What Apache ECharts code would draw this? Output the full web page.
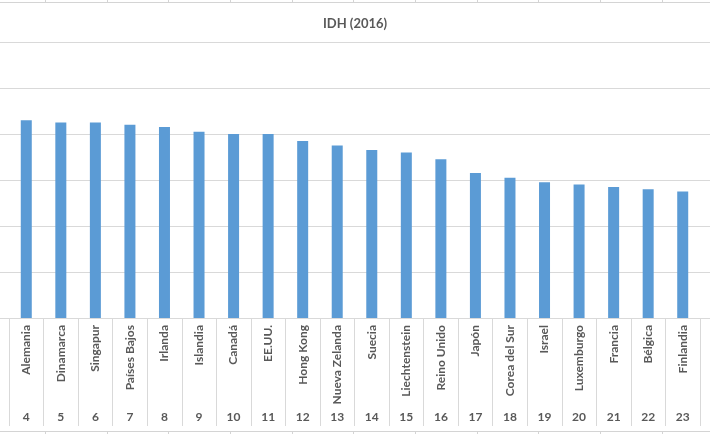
<!DOCTYPE html>
<html>
<head>
<meta charset="utf-8">
<script src="https://cdn.jsdelivr.net/npm/echarts@6/dist/echarts.min.js"></script>
<style>
html,body{margin:0;padding:0;background:#fff;}
#c{width:710px;height:434px;}
</style>
</head>
<body>
<div id="c"></div>
<script>
const titleText = 'IDH (2016)';
const countries = ['Alemania','Dinamarca','Singapur','Países Bajos','Irlanda','Islandia','Canadá','EE.UU.','Hong Kong','Nueva Zelanda','Suecia','Liechtenstein','Reino Unido','Japón','Corea del Sur','Israel','Luxemburgo','Francia','Bélgica','Finlandia'];
const ranks = ['4','5','6','7','8','9','10','11','12','13','14','15','16','17','18','19','20','21','22','23'];
const idh = [0.926,0.925,0.925,0.924,0.923,0.921,0.920,0.920,0.917,0.915,0.913,0.912,0.909,0.903,0.901,0.899,0.898,0.897,0.896,0.895];
const yMin = 0.84, yMax = 0.96, yStep = 0.02;
const sheetCols = [45,107,168,230,292,353,415,477,538,600,662];

const chart = echarts.init(document.getElementById('c'), null, {renderer:'canvas'});
const FONT = 'Lato';
const TXT = '#595959';
const GRID = '#d9d9d9';

const graphics = [
  {type:'line', shape:{x1:0,y1:2.5,x2:710,y2:2.5}, style:{stroke:'#d4d4d4',lineWidth:1}, silent:true},
  {type:'line', shape:{x1:0,y1:431.5,x2:710,y2:431.5}, style:{stroke:'#d4d4d4',lineWidth:1}, silent:true}
];
sheetCols.forEach(x=>{
  graphics.push({type:'line', shape:{x1:x+0.5,y1:0,x2:x+0.5,y2:2}, style:{stroke:'#d4d4d4',lineWidth:1}, silent:true});
  graphics.push({type:'line', shape:{x1:x+0.5,y1:432,x2:x+0.5,y2:434}, style:{stroke:'#d4d4d4',lineWidth:1}, silent:true});
});

chart.setOption({
  animation:false,
  backgroundColor:'#fff',
  title:{
    text:titleText, left:'center', top:12,
    textStyle:{fontFamily:FONT, fontSize:13, fontWeight:'bold', color:TXT}
  },
  graphic:graphics,
  grid:[
    {left:0, right:0, top:42, bottom:116},
    {left:9, right:10, top:42, bottom:116}
  ],
  xAxis:[
    {gridIndex:0, type:'value', show:false, min:0, max:1},
    {gridIndex:1, type:'category', data:countries, position:'bottom',
      axisLine:{show:true, lineStyle:{color:GRID, width:1}},
      axisTick:{show:true, length:108, lineStyle:{color:GRID, width:1}},
      axisLabel:{rotate:90, margin:7, interval:0, fontFamily:FONT, fontSize:12, fontWeight:'bold', color:TXT},
      splitLine:{show:false}
    },
    {gridIndex:1, type:'category', data:ranks, position:'bottom',
      axisLine:{show:false}, axisTick:{show:false},
      axisLabel:{margin:93, interval:0, fontFamily:FONT, fontSize:12, fontWeight:'bold', color:TXT},
      splitLine:{show:false}
    }
  ],
  yAxis:[
    {gridIndex:0, type:'value', min:yMin, max:yMax, interval:yStep,
      axisLine:{show:false}, axisTick:{show:false}, axisLabel:{show:false},
      splitLine:{show:true, lineStyle:{color:GRID, width:1}}
    },
    {gridIndex:1, type:'value', min:yMin, max:yMax, interval:yStep, show:false,
      splitLine:{show:false}
    }
  ],
  series:[
    {type:'bar', xAxisIndex:1, yAxisIndex:1, data:idh, barWidth:11,
      itemStyle:{color:'#5b9bd5'}, silent:true}
  ]
});
</script>
</body>
</html>
